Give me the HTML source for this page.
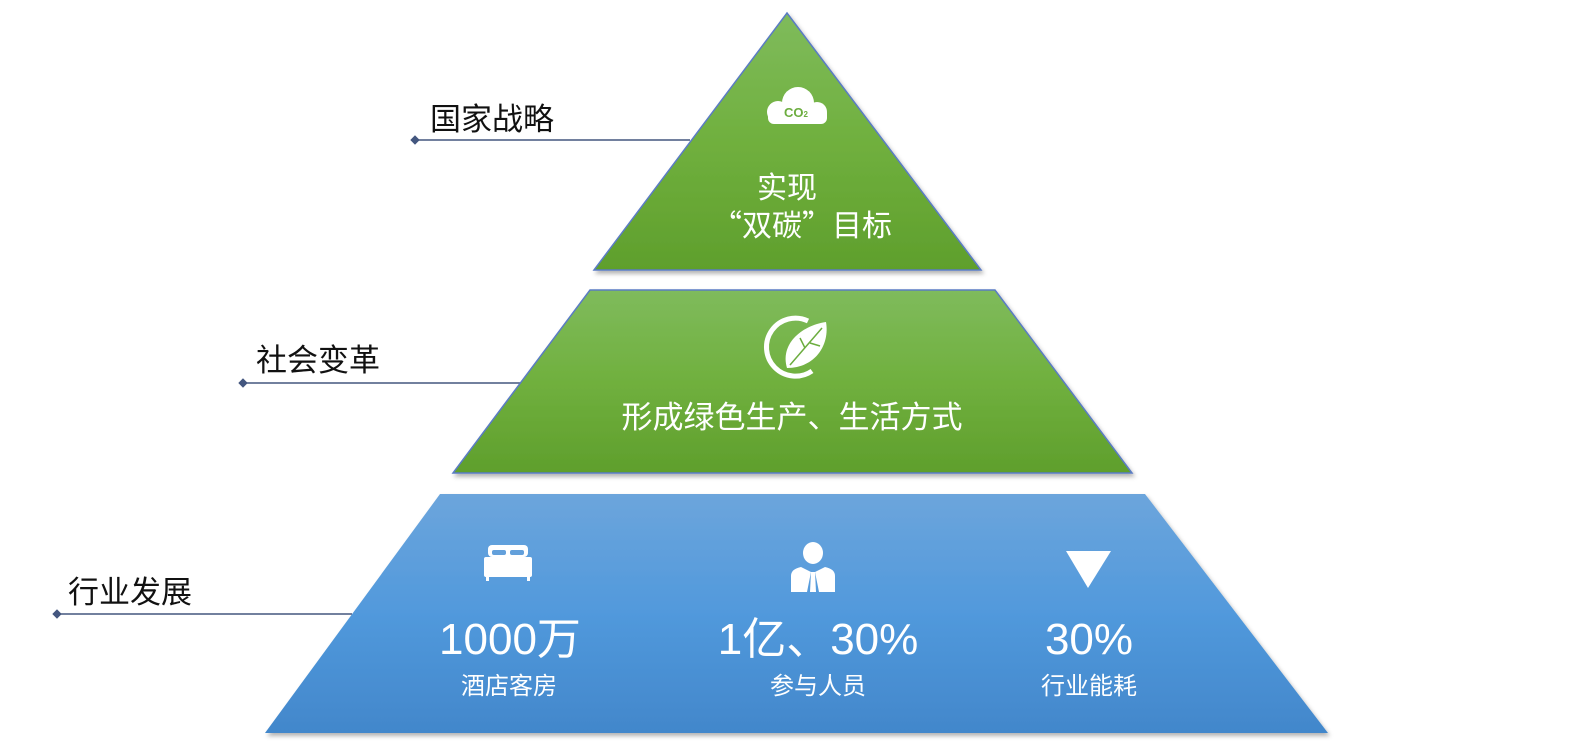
<!DOCTYPE html>
<html><head><meta charset="utf-8"><style>
body{margin:0;background:#fff;}
svg{display:block;font-family:"Liberation Sans","Noto Sans CJK SC",sans-serif;}
.cjk{font-family:"Noto Sans CJK SC",sans-serif;}
</style></head><body>
<svg width="1580" height="756" viewBox="0 0 1580 756">
<defs>
<linearGradient id="g" x1="0" y1="0" x2="0" y2="1"><stop offset="0" stop-color="#7fbb5c"/><stop offset="0.5" stop-color="#70b03e"/><stop offset="1" stop-color="#5f9f2c"/></linearGradient>
<linearGradient id="b" x1="0" y1="0" x2="0" y2="1"><stop offset="0" stop-color="#6ca5dc"/><stop offset="0.5" stop-color="#5199dc"/><stop offset="1" stop-color="#4287cb"/></linearGradient>
<filter id="s" x="-5%" y="-5%" width="110%" height="115%"><feDropShadow dx="2" dy="3" stdDeviation="2" flood-color="#000" flood-opacity="0.3"/></filter>
</defs>
<g fill="#44577f" stroke="#44577f">
<line x1="415" y1="140" x2="690" y2="140" stroke-width="1.5"/><path d="M415 136 L419 140 L415 144 L411 140Z"/>
<line x1="243" y1="383" x2="520" y2="383" stroke-width="1.5"/><path d="M243 379 L247 383 L243 387 L239 383Z"/>
<line x1="57" y1="614" x2="352" y2="614" stroke-width="1.5"/><path d="M57 610 L61 614 L57 618 L53 614Z"/>
</g>
<g font-size="31" fill="#111">
<text x="430" y="130">国家战略</text>
<text x="256" y="371">社会变革</text>
<text x="68" y="603">行业发展</text>
</g>
<polygon points="787,13 981,270 594,270" fill="url(#g)" stroke="#5a7bc4" stroke-width="1.5" filter="url(#s)"/>
<polygon points="590,290 995,290 1132,473 453,473" fill="url(#g)" stroke="#5a7bc4" stroke-width="1.5" filter="url(#s)"/>
<polygon points="440,494 1145,494 1328,733 265,733" fill="url(#b)" filter="url(#s)"/>
<g fill="#fff">
<circle cx="798" cy="103" r="16"/><circle cx="778" cy="112" r="11"/><circle cx="817" cy="112" r="10"/>
<rect x="768" y="108" width="59" height="16" rx="6"/>
</g>
<text x="796" y="117" font-size="13" font-weight="bold" fill="#6cad3f" text-anchor="middle">CO<tspan font-size="8">2</tspan></text>
<g fill="#fff" font-size="30" text-anchor="middle" class="cjk">
<text x="787" y="198">实现</text>
<text x="802" y="236">“双碳”目标</text>
<text x="792" y="428" font-size="31">形成绿色生产、生活方式</text>
</g>
<path d="M808 321 A29 29 0 1 0 812 371" fill="none" stroke="#fff" stroke-width="5"/>
<path d="M787 368 C780 345 800 326 826 322 C830 345 815 368 787 368Z" fill="#fff"/>
<path d="M790 365 L822 328 M805 348 L800 338 M810 343 L820 346" stroke="#6cad3f" stroke-width="1.5"/>
<g fill="#fff">
<rect x="488" y="545" width="40" height="12" rx="4"/>
<rect x="484" y="557" width="48" height="20" rx="2"/>
<rect x="486" y="577" width="3" height="4"/><rect x="527" y="577" width="3" height="4"/>
</g>
<rect x="492" y="550" width="14" height="5" rx="2" fill="#63a0db"/><rect x="510" y="550" width="14" height="5" rx="2" fill="#63a0db"/>
<g fill="#fff">
<ellipse cx="813" cy="553" rx="10" ry="11"/>
<path d="M791 592 L791 576 Q791 569 801 567 L811 572 L807 592Z M835 592 L835 576 Q835 569 825 567 L815 572 L819 592Z"/>
<path d="M811 572 L815 572 L816 592 L810 592Z"/>
</g>
<polygon points="1066,551 1111,551 1088,588" fill="#fff"/>
<g fill="#fff" text-anchor="middle">
<text x="510" y="654" font-size="44">1000万</text>
<text x="509" y="694" font-size="24">酒店客房</text>
<text x="818" y="654" font-size="44">1亿、30%</text>
<text x="818" y="694" font-size="24">参与人员</text>
<text x="1089" y="654" font-size="44">30%</text>
<text x="1089" y="694" font-size="24">行业能耗</text>
</g>
</svg>
</body></html>
